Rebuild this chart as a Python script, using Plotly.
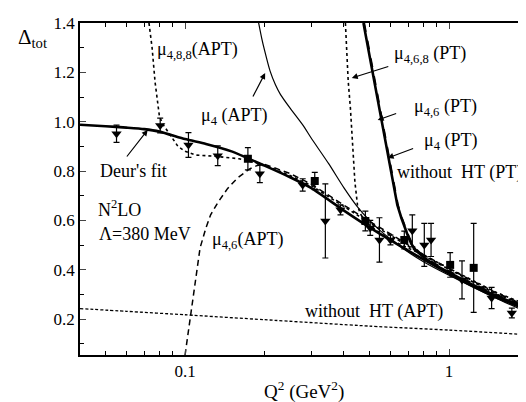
import plotly.graph_objects as go

# ---------------- data ----------------
# experimental points
tri_q2 = [0.055, 0.0805, 0.103, 0.133, 0.192, 0.279, 0.340, 0.388, 0.503, 0.545, 0.600, 0.726, 0.806, 0.855, 1.12, 1.45, 1.73]
tri_val = [0.951, 0.985, 0.906, 0.862, 0.789, 0.744, 0.598, 0.643, 0.570, 0.521, 0.521, 0.558, 0.501, 0.521, 0.359, 0.286, 0.225]
tri_err = [0.035, 0.030, 0.050, 0.040, 0.036, 0.025, 0.150, 0.020, 0.030, 0.090, 0.020, 0.065, 0.087, 0.067, 0.077, 0.043, 0.020]

sq_q2 = [0.173, 0.310, 0.482, 0.677, 1.01, 1.24]
sq_val = [0.850, 0.760, 0.598, 0.521, 0.420, 0.408]
sq_err = [0.045, 0.035, 0.040, 0.036, 0.050, 0.180]

# Deur's fit
deur_q2 = [0.04, 0.05, 0.06, 0.07, 0.08, 0.10, 0.12, 0.15, 0.20, 0.25, 0.30, 0.40, 0.50, 0.60, 0.70, 0.80, 1.0, 1.2, 1.5, 2.0]
deur_val = [0.988, 0.982, 0.976, 0.970, 0.960, 0.930, 0.910, 0.880, 0.822, 0.775, 0.732, 0.640, 0.572, 0.520, 0.478, 0.442, 0.385, 0.340, 0.290, 0.236]

# mu_4 (APT)
m4apt_q2 = [0.19, 0.195, 0.20, 0.21, 0.22, 0.23, 0.25, 0.28, 0.30, 0.35, 0.40, 0.45, 0.50, 0.55, 0.60, 0.70, 0.80, 1.0, 1.2, 1.5, 2.0]
m4apt_val = [1.40, 1.34, 1.29, 1.205, 1.15, 1.11, 1.055, 0.985, 0.935, 0.830, 0.732, 0.655, 0.600, 0.558, 0.525, 0.472, 0.433, 0.378, 0.336, 0.286, 0.226]

# mu_4,6,8 (APT)
m468apt_q2 = [0.073, 0.075, 0.077, 0.080, 0.083, 0.088, 0.094, 0.10, 0.11, 0.13, 0.16, 0.20, 0.25, 0.30, 0.40, 0.50, 0.60, 0.80, 1.0, 1.5, 2.0]
m468apt_val = [1.40, 1.30, 1.16, 1.02, 0.985, 0.945, 0.900, 0.880, 0.865, 0.860, 0.850, 0.825, 0.782, 0.742, 0.655, 0.590, 0.540, 0.458, 0.402, 0.303, 0.250]

# mu_4,6 (APT)
m46apt_q2 = [0.100, 0.105, 0.109, 0.114, 0.120, 0.125, 0.133, 0.145, 0.158, 0.175, 0.188, 0.20, 0.25, 0.30, 0.40, 0.50, 0.60, 0.80, 1.0, 1.5, 2.0]
m46apt_val = [0.055, 0.217, 0.355, 0.489, 0.570, 0.623, 0.672, 0.730, 0.772, 0.808, 0.823, 0.828, 0.790, 0.748, 0.662, 0.596, 0.546, 0.462, 0.405, 0.308, 0.252]

# without HT (APT)
nohtapt_q2 = [0.04, 0.06, 0.10, 0.20, 0.50, 1.0, 2.0]
nohtapt_val = [0.243, 0.232, 0.218, 0.198, 0.172, 0.156, 0.137]

# mu_4,6,8 (PT)
m468pt_q2 = [0.405, 0.415, 0.423, 0.430, 0.440, 0.450, 0.460, 0.475, 0.50, 0.55, 0.60, 0.70, 0.80, 1.0, 1.5, 2.0]
m468pt_val = [1.40, 1.165, 1.056, 0.914, 0.756, 0.663, 0.630, 0.605, 0.580, 0.548, 0.522, 0.488, 0.460, 0.406, 0.310, 0.256]

# mu_4 (PT) and mu_4,6 (PT)
m4pt_q2 = [0.474, 0.513, 0.549, 0.589, 0.601, 0.637, 0.66, 0.68, 0.70, 0.72, 0.75, 0.80, 0.85, 0.92, 1.0, 1.2, 1.5, 2.0]
m4pt_val = [1.40, 1.20, 1.03, 0.854, 0.80, 0.663, 0.610, 0.570, 0.535, 0.505, 0.478, 0.452, 0.432, 0.410, 0.390, 0.345, 0.295, 0.244]
m46pt_q2 = [0.477, 0.516, 0.552, 0.592, 0.604, 0.640, 0.663, 0.683, 0.703, 0.723, 0.753, 0.80, 0.85, 0.92, 1.0, 1.2, 1.5, 2.0]
m46pt_val = [1.40, 1.20, 1.03, 0.854, 0.80, 0.663, 0.610, 0.570, 0.537, 0.508, 0.482, 0.456, 0.436, 0.414, 0.395, 0.350, 0.300, 0.248]

x_ticks = [0.1, 1]
x_ticktext = ["0.1", "1"]
x_minor = [0.05, 0.06, 0.07, 0.08, 0.09, 0.2, 0.3, 0.4, 0.5, 0.6, 0.7, 0.8, 0.9, 2]
y_ticks = [0.2, 0.4, 0.6, 0.8, 1.0, 1.2, 1.4]
y_ticktext = ["0.2", "0.4", "0.6", "0.8", "1.0", "1.2", "1.4"]

# ---------------- figure ----------------
FONT = "Liberation Serif"
fig = go.Figure()

def line(x, y, width, dash, shape="linear"):
    fig.add_trace(go.Scatter(x=x, y=y, mode="lines", line=dict(color="black", width=width, dash=dash,
                             shape=shape, smoothing=0.6),
                             hoverinfo="skip", showlegend=False))

line(nohtapt_q2, nohtapt_val, 1.3, "3px,2px", "spline")
line(m468apt_q2, m468apt_val, 1.6, "dot")
line(m46apt_q2, m46apt_val, 1.5, "6px,4px")
line(m4apt_q2, m4apt_val, 1.2, "solid", "spline")
line(m468pt_q2, m468pt_val, 1.6, "dot")
line(m4pt_q2, m4pt_val, 2.6, "solid")
line(m46pt_q2, m46pt_val, 2.0, "dash")
line(deur_q2, deur_val, 2.6, "solid", "spline")

fig.add_trace(go.Scatter(x=tri_q2, y=tri_val, mode="markers",
                         marker=dict(symbol="triangle-down", size=9, color="black"),
                         error_y=dict(type="data", array=tri_err, color="black", thickness=1.2, width=3),
                         showlegend=False))
fig.add_trace(go.Scatter(x=sq_q2, y=sq_val, mode="markers",
                         marker=dict(symbol="square", size=8, color="black"),
                         error_y=dict(type="data", array=sq_err, color="black", thickness=1.2, width=3),
                         showlegend=False))

L, R, T, B = 72, 3, 15, 55
W, H = 526, 402
PW, PH = W - L - R, H - T - B

def px(x):
    return (x - L) / PW

def py(y):
    return (H - B - y) / PH

tfont = dict(family=FONT, size=18, color="black")
texts = [
    ("μ<sub>4,8,8</sub>(APT)", 147, 42),
    ("μ<sub>4</sub> (APT)", 192, 108),
    ("Deur's fit", 90, 163),
    ("N<sup>2</sup>LO", 88, 200),
    ("Λ=380 MeV", 89, 226),
    ("μ<sub>4,6</sub>(APT)", 203, 233),
    ("without  HT (APT)", 296, 303),
    ("μ<sub>4,6,8</sub> (PT)", 385, 47),
    ("μ<sub>4,6</sub> (PT)", 405, 100),
    ("μ<sub>4</sub> (PT)", 416, 133),
    ("without  HT (PT)", 388, 165),
]
for t, x, y in texts:
    fig.add_annotation(text=t, x=px(x), y=py(y), xref="paper", yref="paper", xanchor="left",
                       yanchor="middle", showarrow=False, font=tfont)

arrows = [  # head (x, y), tail offset (ax, ay)
    (258, 65, -13, 25),
    (140, 122, -22, 28),
    (345, 70, 38, -12),
    (371, 112, 20, -7),
    (381, 150, 27, -10),
]
for x, y, ax, ay in arrows:
    fig.add_annotation(text="", x=px(x), y=py(y), xref="paper", yref="paper", ax=ax, ay=ay,
                       axref="pixel", ayref="pixel", showarrow=True, arrowhead=2, arrowsize=1,
                       arrowwidth=1.2, arrowcolor="black")

fig.add_annotation(text="Δ<sub>tot</sub>", x=px(8), y=py(30), xref="paper", yref="paper", xanchor="left",
                   yanchor="middle", showarrow=False, font=dict(family=FONT, size=21, color="black"))
fig.add_annotation(text="Q<sup>2</sup> (GeV<sup>2</sup>)", x=px(297), y=py(382), xref="paper", yref="paper",
                   xanchor="center", yanchor="middle", showarrow=False, font=dict(family=FONT, size=19, color="black"))

fig.update_xaxes(type="log", range=[-1.398, 0.303], tickvals=x_ticks, ticktext=x_ticktext,
                 ticks="inside", ticklen=6, tickwidth=1.2, showline=True, linewidth=1.6, linecolor="black",
                 mirror="ticks", showgrid=False, zeroline=False,
                 tickfont=dict(family=FONT, size=17, color="black"),
                 minor=dict(tickvals=x_minor, ticks="inside", ticklen=4, tickwidth=1, tickcolor="black", showgrid=False))
fig.update_yaxes(range=[0.055, 1.4], tickvals=y_ticks, ticktext=y_ticktext,
                 ticks="inside", ticklen=6, tickwidth=1.2, showline=True, linewidth=1.6, linecolor="black",
                 mirror="ticks", showgrid=False, zeroline=False,
                 tickfont=dict(family=FONT, size=17, color="black"),
                 minor=dict(dtick=0.1, tick0=0.1, ticks="inside", ticklen=4, tickwidth=1, tickcolor="black", showgrid=False))

fig.update_layout(width=W, height=H, margin=dict(l=L, r=R, t=T, b=B),
                  paper_bgcolor="white", plot_bgcolor="white", showlegend=False)

fig.write_html("out.html")
